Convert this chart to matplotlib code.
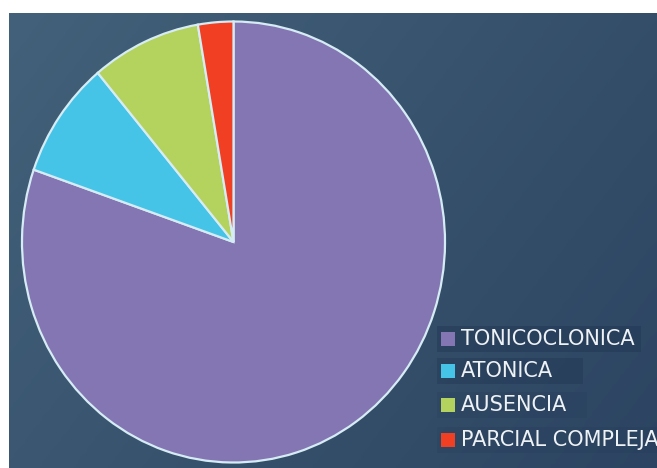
import numpy as np
import matplotlib.pyplot as plt
from matplotlib.patches import Rectangle
from matplotlib.colors import LinearSegmentedColormap

labels = ["TONICOCLONICA", "ATONICA", "AUSENCIA", "PARCIAL COMPLEJA"]
values = [80.4, 8.6, 8.4, 2.7]
colors = ["#8476b2", "#45c4e8", "#b4d25e", "#f03f23"]

W, H = 657, 468
fig = plt.figure(figsize=(W / 100, H / 100), dpi=100)
fig.patch.set_facecolor("white")

# background panel with soft gradient
bg = fig.add_axes([9 / W, 0, (W - 9) / W, (H - 13) / H])
yy, xx = np.mgrid[0:1:200j, 0:1:300j]
grad = 0.65 * xx + 0.35 * yy
cmap = LinearSegmentedColormap.from_list("bg", ["#43617a", "#2c4461"])
bg.imshow(grad, cmap=cmap, aspect="auto", extent=[0, 1, 0, 1], origin="upper")
bg.axis("off")

# pie
cx, cy, rx, ry = 233.5, 242, 211.5, 220.5
ax = fig.add_axes([(cx - rx) / W, (H - cy - ry) / H, 2 * rx / W, 2 * ry / H])
wedges, _ = ax.pie(values, colors=colors, startangle=90, counterclock=False,
                   wedgeprops=dict(edgecolor="#d6ecf4", linewidth=1.6))
for w in wedges:
    w.set_clip_on(False)
ax.set_aspect("auto")
ax.set_xlim(-1, 1)
ax.set_ylim(-1, 1)
ax.axis("off")

# legend rows
row_y = [339, 371, 405, 440]
box_w = [204, 146, 150, 230]
box_a = [0.4, 0.35, 0.15, 0.15]
for lab, col, y, bw, ba in zip(labels, colors, row_y, box_w, box_a):
    fig.patches.append(Rectangle((437 / W, (H - y - 13) / H), bw / W, 26 / H,
                                 transform=fig.transFigure, facecolor="#1e3350",
                                 alpha=ba, edgecolor="none", zorder=2))
    fig.patches.append(Rectangle((441 / W, (H - y - 7) / H), 14 / W, 14 / H,
                                 transform=fig.transFigure, facecolor=col,
                                 edgecolor="none", zorder=3))
    fig.text(461 / W, (H - y) / H, lab, color="#eef2f5", fontsize=15,
             va="center", ha="left", zorder=4)

fig.savefig("out.png", dpi=100)
